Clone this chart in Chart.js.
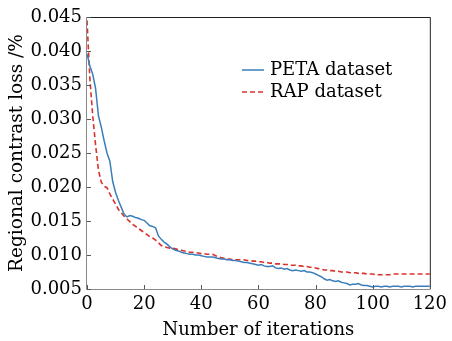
<!DOCTYPE html>
<html><head><meta charset="utf-8">
<script src="https://cdn.jsdelivr.net/npm/chart.js@4/dist/chart.umd.min.js"></script>
<style>html,body{margin:0;padding:0;background:#fff}</style>
</head><body>
<canvas id="c" width="452" height="341"></canvas>
<script>
const iterations = Array.from({length:121},(_,i)=>i);
const petaLoss = [
0.0396,0.0378,0.0366,0.0345,0.0305,0.0288,0.0268,0.0250,0.0238,0.0208,
0.0192,0.0180,0.0170,0.0160,0.0156,0.0158,0.0157,0.0155,0.0154,0.0152,
0.0151,0.0147,0.0143,0.0142,0.0140,0.0128,0.0123,0.0119,0.0116,0.0112,
0.0109,0.0107,0.0106,0.0104,0.0103,0.0102,0.0101,0.0101,0.0100,0.0100,
0.0099,0.0098,0.0097,0.0097,0.0097,0.0096,0.0095,0.0094,0.0094,0.0093,
0.0093,0.0092,0.0092,0.0091,0.0090,0.0089,0.0089,0.0088,0.0087,0.0086,
0.0085,0.0086,0.0084,0.0083,0.0083,0.0084,0.0081,0.0080,0.0081,0.0079,
0.0080,0.0078,0.0077,0.0078,0.0077,0.0076,0.0077,0.0075,0.0075,0.0074,
0.0072,0.0070,0.0068,0.0065,0.0063,0.0064,0.0062,0.0061,0.0062,0.0060,
0.0059,0.0058,0.0056,0.0057,0.0057,0.0058,0.0056,0.0055,0.0055,0.0054,
0.0053,0.0054,0.0054,0.0053,0.0054,0.0054,0.0053,0.0054,0.0054,0.0054,
0.0053,0.0054,0.0054,0.0054,0.0053,0.0054,0.0054,0.0054,0.0054,0.0054,
0.0054];
const rapLoss = [
0.0445,0.0360,0.0305,0.0262,0.0225,0.0207,0.0201,0.0199,0.0190,0.0182,
0.0175,0.0167,0.0162,0.0157,0.0153,0.0149,0.0145,0.0142,0.0139,0.0136,
0.0133,0.0130,0.0127,0.0125,0.0122,0.0118,0.0114,0.0112,0.0111,0.0110,
0.0110,0.0109,0.0108,0.0107,0.0106,0.0105,0.0104,0.0104,0.0103,0.0103,
0.0102,0.0102,0.0101,0.0101,0.0101,0.0099,0.0097,0.0096,0.0095,0.0094,
0.0094,0.0093,0.0093,0.0093,0.0093,0.0093,0.0092,0.0092,0.0091,0.0091,
0.0090,0.0090,0.0089,0.0089,0.0088,0.0088,0.0087,0.0087,0.0087,0.0086,
0.0086,0.0085,0.0085,0.0085,0.0084,0.0084,0.0083,0.0083,0.0082,0.0082,
0.0081,0.0080,0.0079,0.0078,0.0078,0.0077,0.0077,0.0076,0.0076,0.0075,
0.0075,0.0075,0.0074,0.0074,0.0074,0.0073,0.0073,0.0073,0.0072,0.0072,
0.0072,0.0071,0.0071,0.0071,0.0071,0.0071,0.0071,0.0072,0.0072,0.0072,
0.0072,0.0072,0.0072,0.0072,0.0072,0.0072,0.0072,0.0072,0.0072,0.0072,
0.0072];
const xTicks = [0,20,40,60,80,100,120];
const yTicks = [0.005,0.010,0.015,0.020,0.025,0.030,0.035,0.040,0.045];
const seriesLabels = ['PETA dataset','RAP dataset'];
const xTitle = 'Number of iterations';
const yTitle = 'Regional contrast loss /%';

const FONT = 'DejaVu Serif';
const BLUE = '#3a7dbb', RED = '#d9312b';

const frame = {
  id:'frame',
  afterDatasetsDraw(chart){
    const {ctx, chartArea:a, scales:{x,y}} = chart;
    ctx.save();
    ctx.lineWidth = 1;
    ctx.strokeStyle = '#222';
    ctx.beginPath();
    ctx.moveTo(a.left, a.top+0.5); ctx.lineTo(a.right+0.5, a.top+0.5); ctx.lineTo(a.right+0.5, a.bottom);
    ctx.stroke();
    ctx.strokeStyle = '#8a8a8a';
    ctx.beginPath();
    ctx.moveTo(a.left-0.5, a.top); ctx.lineTo(a.left-0.5, a.bottom+0.5); ctx.lineTo(a.right+0.5, a.bottom+0.5);
    ctx.stroke();
    ctx.strokeStyle = '#555';
    xTicks.forEach(v=>{const px=Math.round(x.getPixelForValue(v))+0.5; ctx.beginPath(); ctx.moveTo(px,a.bottom); ctx.lineTo(px,a.bottom-4); ctx.stroke();});
    yTicks.forEach(v=>{const py=Math.round(y.getPixelForValue(v))+0.5; ctx.beginPath(); ctx.moveTo(a.left,py); ctx.lineTo(a.left+4,py); ctx.stroke();});
    // legend
    const ds = chart.data.datasets;
    const lx = 242, ly = [70, 92];
    ds.forEach((d,i)=>{
      ctx.strokeStyle = d.borderColor; ctx.lineWidth = 1.5;
      ctx.setLineDash(d.borderDash||[]);
      ctx.beginPath(); ctx.moveTo(lx, ly[i]); ctx.lineTo(lx+22, ly[i]); ctx.stroke();
      ctx.setLineDash([]);
      ctx.fillStyle = '#000'; ctx.font = '18px "'+FONT+'"'; ctx.textBaseline='middle'; ctx.textAlign='left';
      ctx.fillText(d.label, lx+28, ly[i]);
    });
    ctx.restore();
  }
};

new Chart(document.getElementById('c'), {
  type:'line',
  data:{ datasets:[
    {label:seriesLabels[0], data:iterations.map((v,i)=>({x:v,y:petaLoss[i]})), borderColor:BLUE, borderWidth:1.5, pointRadius:0, tension:0, fill:false},
    {label:seriesLabels[1], data:iterations.map((v,i)=>({x:v,y:rapLoss[i]})), borderColor:RED, borderWidth:1.6, borderDash:[5,3], pointRadius:0, tension:0, fill:false}
  ]},
  options:{
    responsive:false, animation:false, devicePixelRatio:1,
    layout:{padding:{top:17,right:19,left:0,bottom:0}},
    plugins:{legend:{display:false}, tooltip:{enabled:false}},
    scales:{
      x:{type:'linear', min:0, max:120,
        afterBuildTicks(s){ s.ticks = xTicks.map(v=>({value:v})); },
        afterFit(s){ s.height = 52; },
        grid:{display:false, drawTicks:false}, border:{display:false},
        ticks:{font:{family:FONT,size:18}, color:'#000', padding:5, maxRotation:0},
        title:{display:true, text:xTitle, font:{family:FONT,size:18}, color:'#000', padding:{top:0,bottom:0}}
      },
      y:{type:'linear', min:0.005, max:0.045,
        afterBuildTicks(s){ s.ticks = yTicks.map(v=>({value:v})); },
        afterFit(s){ s.width = 87; },
        grid:{display:false, drawTicks:false}, border:{display:false},
        ticks:{font:{family:FONT,size:18}, color:'#000', padding:5, callback:v=>v.toFixed(3)},
        title:{display:true, text:yTitle, font:{family:FONT,size:18.5}, color:'#000', padding:{top:6,bottom:0}}
      }
    }
  },
  plugins:[frame]
});
</script>
</body></html>
